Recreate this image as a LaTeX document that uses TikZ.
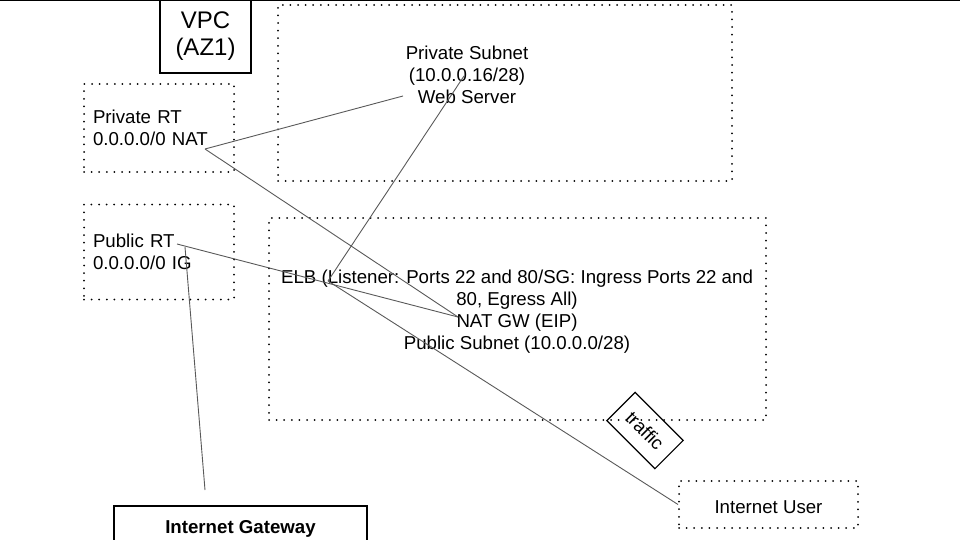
\documentclass[tikz,border=0pt]{standalone}
\usepackage{fontspec}
\setmainfont{Liberation Sans}
\usepackage{tikz}
\newcommand{\msz}{\fontsize{18.67}{22}\selectfont}
\newcommand{\mbig}{\fontsize{24}{27}\selectfont}
\definecolor{linkgray}{HTML}{595959}

\begin{document}
\begin{tikzpicture}[x=1pt,y=-1pt]
    \tikzstyle{dotbox}=[draw, line width=2pt, dash pattern=on 0pt off 7.6pt, line cap=round, inner sep=0pt]
    \tikzstyle{solidbox}=[draw, line width=1.2pt, inner sep=0pt]
    \tikzstyle{link}=[draw=linkgray, line width=0.9pt]
    \clip (0,0) rectangle (960,540);
    \draw[line width=1.5pt] (0,0.75) -- (960,0.75);
    \node[solidbox, minimum width=91pt, minimum height=80pt] (vpcbox) at (205.5,33) {};
    \node[align=center, font=\mbig] (vpc) at (205.5,36.5) {VPC\\(AZ1)};
    \node[dotbox, minimum width=150pt, minimum height=88pt, text width=132pt, align=left, font=\msz] (privrt) at (159,128) {Private RT\\0.0.0.0/0 NAT};
    \node[dotbox, minimum width=150pt, minimum height=95pt, text width=132pt, align=left, font=\msz] (pubrt) at (159,252) {Public RT\\0.0.0.0/0 IG};
    \node[dotbox, minimum width=454pt, minimum height=176pt] (privnet) at (505,93) {};
    \node[align=center, font=\msz] (websrv) at (467,75) {Private Subnet\\(10.0.0.16/28)\\Web Server};
    \node[dotbox, minimum width=497pt, minimum height=202pt] (pubnet) at (517.5,319) {};
    \node[align=center, font=\msz] (elb) at (517,312) {ELB (Listener: Ports 22 and 80/SG: Ingress Ports 22 and\\80, Egress All)\\NAT GW (EIP)\\Public Subnet (10.0.0.0/28)};
    \node[dotbox, minimum width=179pt, minimum height=47pt, text height=18pt, font=\msz] (user) at (768.5,504.5) {Internet User};
    \node[solidbox, minimum width=253pt, minimum height=46pt, font=\msz\bfseries] (igw) at (240.5,529) {Internet Gateway};
    \node[solidbox, rotate=-45, minimum width=68pt, minimum height=40pt, font=\msz] (traffic) at (645,430.5) {traffic};
    \coordinate (natend) at (205,149);
    \coordinate (srvend) at (403,96);
    \coordinate (srvtop) at (464,76);
    \coordinate (natgw) at (458,317);
    \coordinate (elbpt) at (328,281);
    \coordinate (rtend) at (177,244);
    \coordinate (igend) at (185,247);
    \coordinate (igtop) at (205,490);
    \draw[link] (natend) -- (srvend);
    \draw[link] (natend) -- (natgw);
    \draw[link] (rtend) -- (natgw);
    \draw[link] (igend) -- (igtop);
    \draw[link] (srvtop) -- (elbpt);
    \draw[link] (elbpt) -- (user.west);
\end{tikzpicture}
\end{document}
